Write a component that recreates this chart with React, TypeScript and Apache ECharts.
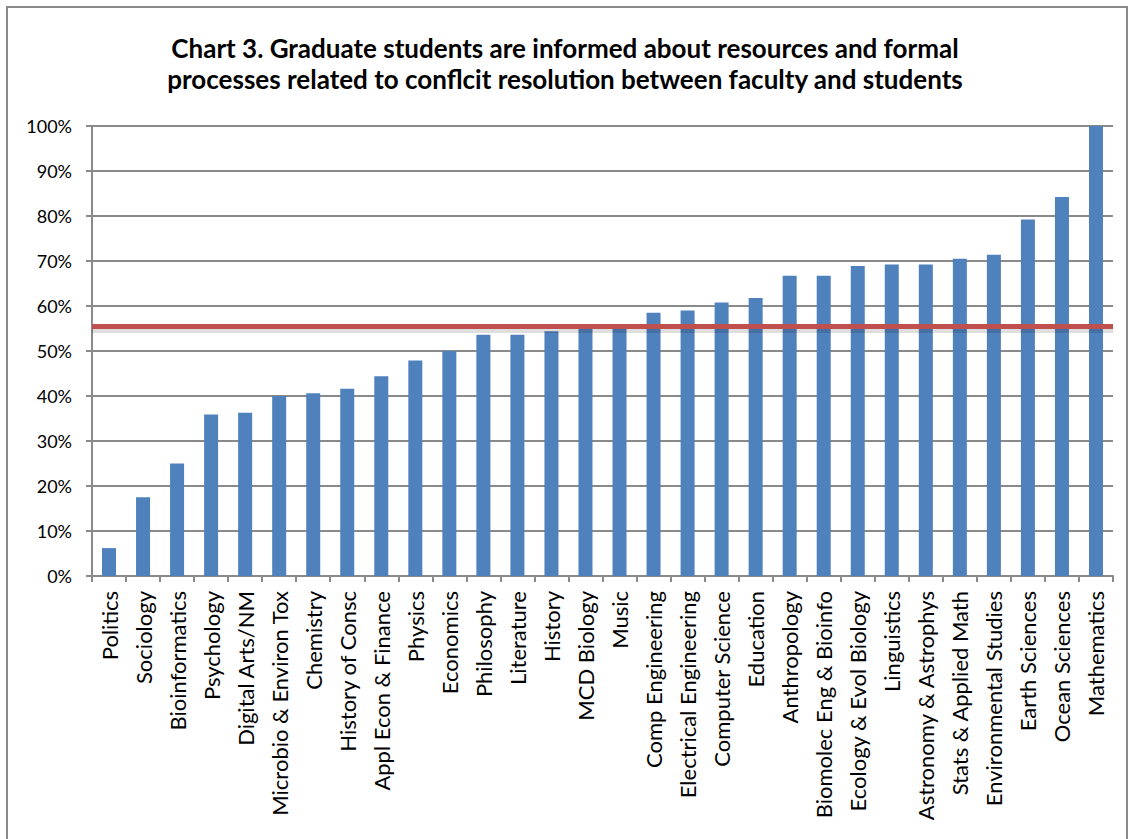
import React, { useEffect, useRef } from "react";
import * as echarts from "echarts";

const TITLE_LINES = [
  "Chart 3. Graduate students are informed about resources and formal",
  "processes related to conflcit resolution between faculty and students",
];

const CATEGORIES = [
  "Politics",
  "Sociology",
  "Bioinformatics",
  "Psychology",
  "Digital Arts/NM",
  "Microbio & Environ Tox",
  "Chemistry",
  "History of Consc",
  "Appl Econ & Finance",
  "Physics",
  "Economics",
  "Philosophy",
  "Literature",
  "History",
  "MCD Biology",
  "Music",
  "Comp Engineering",
  "Electrical Engineering",
  "Computer Science",
  "Education",
  "Anthropology",
  "Biomolec Eng & Bioinfo",
  "Ecology & Evol Biology",
  "Linguistics",
  "Astronomy & Astrophys",
  "Stats & Applied Math",
  "Environmental Studies",
  "Earth Sciences",
  "Ocean Sciences",
  "Mathematics",
];

const VALUES = [
  6.2, 17.5, 25.0, 35.9, 36.3, 40.0, 40.6, 41.6, 44.4, 47.9,
  50.0, 53.6, 53.6, 54.4, 54.9, 55.3, 58.5, 59.0, 60.8, 61.8,
  66.7, 66.7, 68.9, 69.2, 69.2, 70.5, 71.4, 79.2, 84.2, 100.0,
];

const AVERAGE = 55.6;

const Y_MIN = 0;
const Y_MAX = 100;
const Y_STEP = 10;

// visual offset (in axis units) of the soft shadow under the average line
const SHADOW_SHIFT = 0.7;

const FONT = "Lato, 'Open Sans', sans-serif";

export default function App() {
  const ref = useRef<HTMLDivElement>(null);

  useEffect(() => {
    if (!ref.current) return;
    const chart = echarts.init(ref.current, undefined, { renderer: "svg" });
    chart.setOption({
      animation: false,
      backgroundColor: "#ffffff",
      title: {
        text: TITLE_LINES.join("\n"),
        left: "center",
        top: 27,
        textStyle: {
          fontFamily: FONT,
          fontSize: 26,
          fontWeight: "bold",
          color: "#000000",
          lineHeight: 31,
        },
      },
      grid: {
        left: 92,
        right: 17,
        top: 126,
        bottom: 263,
        containLabel: false,
      },
      xAxis: {
        type: "category",
        data: CATEGORIES,
        boundaryGap: true,
        axisLine: { show: true, lineStyle: { color: "#8a8a8a", width: 2 } },
        axisTick: {
          show: true,
          alignWithLabel: false,
          length: 6,
          lineStyle: { color: "#8a8a8a", width: 2 },
        },
        axisLabel: {
          rotate: 90,
          interval: 0,
          margin: 15,
          color: "#000000",
          fontFamily: FONT,
          fontSize: 22,
        },
        splitLine: { show: false },
      },
      yAxis: {
        type: "value",
        min: Y_MIN,
        max: Y_MAX,
        interval: Y_STEP,
        axisLine: { show: true, lineStyle: { color: "#8a8a8a", width: 2 } },
        axisTick: {
          show: true,
          length: 6,
          lineStyle: { color: "#8a8a8a", width: 2 },
        },
        axisLabel: {
          formatter: "{value}%",
          margin: 20,
          color: "#000000",
          fontFamily: FONT,
          fontSize: 18,
        },
        splitLine: { show: true, lineStyle: { color: "#8a8a8a", width: 2 } },
      },
      series: [
        {
          type: "bar",
          data: VALUES,
          barWidth: 14,
          itemStyle: { color: "#4F81BD" },
          markLine: {
            silent: true,
            symbol: "none",
            label: { show: false },
            data: [
              {
                yAxis: AVERAGE - SHADOW_SHIFT,
                lineStyle: { color: "rgba(0,0,0,0.13)", width: 7, type: "solid" },
              },
              {
                yAxis: AVERAGE,
                lineStyle: { color: "#C0504D", width: 5, type: "solid" },
              },
            ],
          },
        },
      ],
    });
    return () => chart.dispose();
  }, []);

  return (
    <div style={{ position: "absolute", left: 0, top: 0, width: 1130, height: 839, background: "#fff", overflow: "hidden" }}>
      <div ref={ref} style={{ position: "absolute", left: 0, top: 0, width: 1130, height: 839 }} />
      <div
        style={{
          position: "absolute",
          left: 6,
          top: 6,
          width: 1122,
          height: 860,
          border: "2px solid #8a8a8a",
          boxSizing: "border-box",
          pointerEvents: "none",
        }}
      />
    </div>
  );
}
